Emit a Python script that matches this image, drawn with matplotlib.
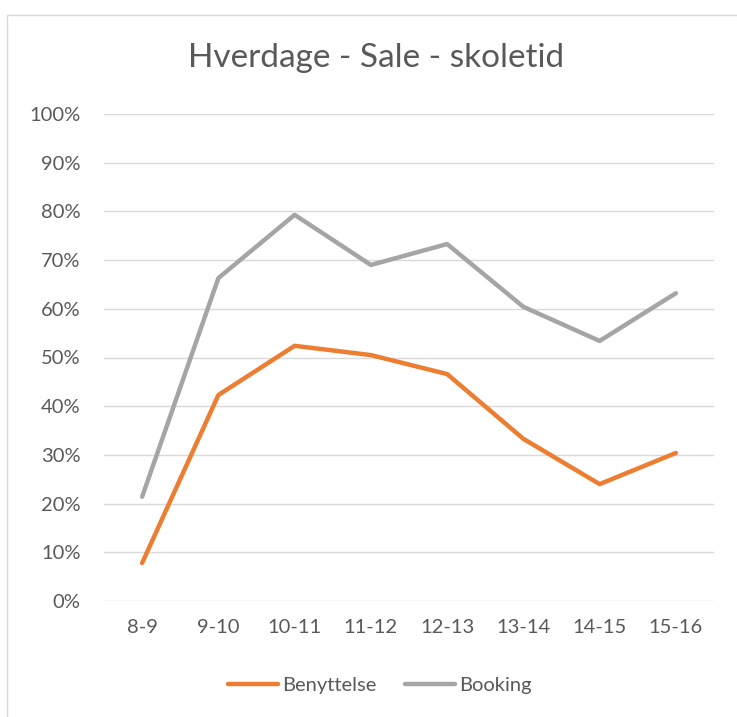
import matplotlib
matplotlib.use("Agg")
import matplotlib.pyplot as plt
from matplotlib.patches import Rectangle
from matplotlib.ticker import PercentFormatter

categories = ["8-9", "9-10", "10-11", "11-12", "12-13", "13-14", "14-15", "15-16"]
benyttelse = [0.078, 0.423, 0.524, 0.505, 0.466, 0.333, 0.240, 0.304]
booking = [0.214, 0.663, 0.793, 0.690, 0.733, 0.604, 0.534, 0.632]

W, H = 737, 717
fig = plt.figure(figsize=(W / 100, H / 100), dpi=100)
plt.rcParams['font.family'] = ['Lato', 'DejaVu Sans']
txt = '#595959'

# outer chart border
fig.patches.append(Rectangle((7 / W, 1 - 760 / H), 760 / W, 745 / H,
                             transform=fig.transFigure, fill=False,
                             edgecolor='#D9D9D9', linewidth=1.0))

ax = fig.add_axes([104 / W, 1 - 601 / H, (714 - 104) / W, (601 - 114) / H])
x = range(len(categories))
ax.plot(x, benyttelse, color='#ED7D31', linewidth=3.2, label='Benyttelse',
        solid_joinstyle='round', solid_capstyle='round')
ax.plot(x, booking, color='#A5A5A5', linewidth=3.2, label='Booking',
        solid_joinstyle='round', solid_capstyle='round')

ax.set_xlim(-0.5, len(categories) - 0.5)
ax.set_ylim(0, 1.0)
ax.set_yticks([i / 10 for i in range(11)])
ax.yaxis.set_major_formatter(PercentFormatter(1.0, decimals=0))
ax.set_xticks(list(x))
ax.set_xticklabels(categories)
ax.grid(axis='y', color='#D9D9D9', linewidth=1.0)
ax.set_axisbelow(True)
for s in ax.spines.values():
    s.set_visible(False)
ax.tick_params(length=0, labelsize=14.5, colors=txt)
ax.tick_params(axis='y', pad=17)
ax.tick_params(axis='x', pad=13)

fig.text(376 / W, 1 - 58 / H, "Hverdage - Sale - skoletid", ha='center', va='center',
         fontsize=24, color=txt)

leg = fig.legend(loc='center', bbox_to_anchor=(380 / W, 1 - 685 / H), ncol=2,
                 frameon=False, fontsize=14.5, handlelength=2.5, handletextpad=0.2,
                 columnspacing=1.4)
for t in leg.get_texts():
    t.set_color(txt)

fig.savefig("out.png", dpi=100)
